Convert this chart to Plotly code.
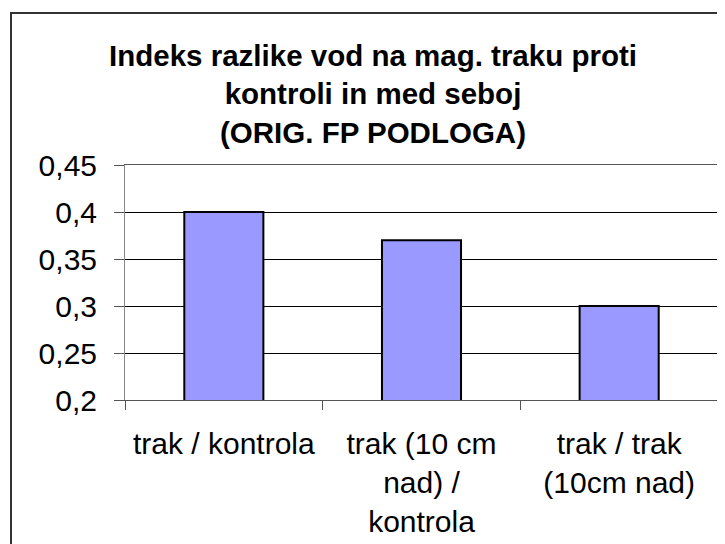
import plotly.graph_objects as go

categories = ["trak / kontrola", "trak (10 cm<br>nad) /<br>kontrola", "trak / trak<br>(10cm nad)"]
values = [0.40, 0.37, 0.30]
y_tickvals = [0.2, 0.25, 0.3, 0.35, 0.4, 0.45]
y_ticktext = ["0,2", "0,25", "0,3", "0,35", "0,4", "0,45"]
title_text = "<b>Indeks razlike vod na mag. traku proti<br>kontroli in med seboj<br>(ORIG. FP PODLOGA)</b>"

# the page body adds an 8px offset; lay out in figure coordinates accordingly
OFF = 8
W, H = 725, 544
L = 125 - OFF
T = 165 - OFF
R = W - (718 - OFF)
B = H - (400 - OFF)
pw, ph = W - L - R, H - T - B

def px2paper(x, y):
    return (x - L) / pw, (H - B - y) / ph

fig = go.Figure(go.Bar(
    x=categories, y=values,
    marker=dict(color="#9999FF", line=dict(color="black", width=2)),
))

x0, y0 = px2paper(11 - OFF, 13 - OFF)
x1, y1 = px2paper(W + 4, H + 4)
fig.add_shape(type="rect", xref="paper", yref="paper", x0=x0, y0=y1, x1=x1, y1=y0,
              line=dict(color="#333333", width=2), fillcolor="rgba(0,0,0,0)", layer="above")

fig.update_layout(
    width=W, height=H,
    margin=dict(l=L, r=R, t=T, b=B, pad=0, autoexpand=False),
    paper_bgcolor="white", plot_bgcolor="white",
    bargap=0.6,
    showlegend=False,
    font=dict(family="Liberation Sans, Arial, sans-serif", color="black", size=30),
    title=dict(text=title_text, x=(373 - OFF) / W, xanchor="center", y=1 - 58 / H, yanchor="middle",
               font=dict(size=29.5, color="black")),
)
fig.update_xaxes(
    showline=True, linecolor="#555555", linewidth=1, mirror=True,
    ticks="outside", tickson="boundaries", ticklen=9, tickcolor="#555555",
    tickfont=dict(size=30), showgrid=False, automargin=False,
    ticklabelstandoff=17,
)
fig.update_yaxes(
    range=[0.2, 0.45], tickvals=y_tickvals, ticktext=y_ticktext,
    showline=True, linecolor="#888888", linewidth=1, mirror=True,
    ticks="outside", ticklen=10, tickcolor="#555555",
    showgrid=True, gridcolor="black", gridwidth=1,
    tickfont=dict(size=30), zeroline=False, automargin=False,
    ticklabelstandoff=11,
)

fig.write_html("out.html")
